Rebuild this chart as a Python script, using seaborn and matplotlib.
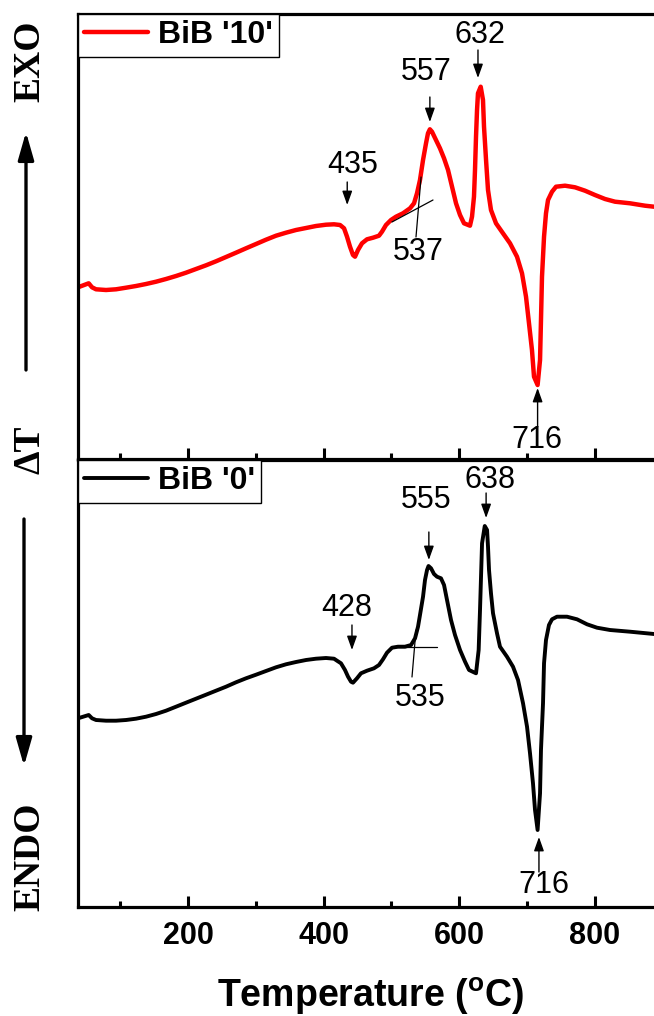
import numpy as np
import pandas as pd
import matplotlib
matplotlib.use("Agg")
import matplotlib.pyplot as plt
import seaborn as sns
from matplotlib.ticker import MultipleLocator, FixedLocator

# DTA traces (temperature in degC, differential signal in arbitrary units)
temp_bib10 = [37.6, 53.4, 58.3, 64.2, 79.0, 93.7, 108.5, 123.2, 138.0, 152.8,
              167.5, 182.3, 197.0, 211.8, 226.6, 241.3, 256.1, 270.8, 285.6, 300.4,
              315.1, 329.9, 344.6, 359.4, 374.2, 388.9, 403.7, 415.5, 424.4, 430.3,
              434.7, 439.1, 443.5, 446.5, 450.9, 456.8, 464.2, 473.1, 481.9, 486.3,
              492.2, 499.6, 507.0, 517.3, 527.7, 533.6, 538.0, 542.4, 546.9, 551.3,
              554.2, 557.0, 560.1, 566.0, 571.9, 577.9, 583.8, 589.7, 595.6, 601.5,
              607.4, 616.2, 619.2, 622.1, 623.6, 625.1, 626.6, 628.0, 632.0, 635.4,
              636.9, 639.9, 642.8, 647.2, 654.6, 664.9, 675.3, 685.6, 693.0, 698.9,
              703.3, 707.7, 710.7, 716.0, 719.6, 721.0, 722.5, 725.5, 728.4, 731.4,
              737.3, 743.2, 756.5, 771.2, 786.0, 800.7, 815.5, 830.3, 852.4, 874.5,
              887.8, 900.0]
dta_bib10 = [171.7, 175.7, 171.7, 169.7, 169.0, 169.7, 171.3, 173.0, 175.0, 177.3,
             180.0, 183.0, 186.3, 190.0, 193.7, 197.7, 202.0, 206.3, 210.7, 215.0,
             219.3, 223.3, 226.3, 229.0, 231.0, 233.0, 234.3, 234.7, 234.0, 230.7,
             222.3, 212.3, 204.0, 202.3, 209.0, 215.7, 219.7, 221.3, 223.3, 227.3,
             234.0, 239.0, 242.3, 245.7, 250.7, 255.7, 265.7, 279.0, 299.0, 315.7,
             325.7, 329.7, 327.3, 319.0, 310.7, 300.7, 289.0, 272.3, 255.7, 244.0,
             235.7, 233.3, 242.3, 262.3, 289.0, 322.3, 349.0, 365.7, 372.3, 359.0,
             332.3, 299.0, 269.0, 249.0, 235.7, 225.7, 215.7, 202.3, 185.7, 162.3,
             135.7, 109.0, 82.3, 74.0, 99.0, 139.0, 182.3, 222.3, 245.7, 259.0,
             267.3, 272.3, 273.3, 271.7, 268.3, 264.0, 260.0, 257.3, 255.7, 253.3,
             252.3, 251.5]

temp_bib0 = [37.6, 53.4, 58.3, 64.2, 79.0, 93.7, 108.5, 123.2, 138.0, 152.8,
             167.5, 182.3, 197.0, 211.8, 226.6, 241.3, 256.1, 270.8, 285.6, 300.4,
             315.1, 329.9, 344.6, 359.4, 374.2, 388.9, 403.7, 415.5, 419.9, 425.8,
             431.7, 436.2, 440.6, 443.5, 449.4, 455.3, 464.2, 474.5, 481.9, 487.8,
             493.7, 501.1, 509.9, 520.3, 529.2, 535.1, 539.5, 542.4, 546.9, 549.8,
             552.8, 555.0, 558.7, 563.1, 567.5, 573.4, 577.9, 582.3, 588.2, 594.1,
             601.5, 608.9, 614.8, 625.1, 629.0, 631.0, 632.5, 634.0, 638.0, 641.4,
             642.8, 644.3, 647.2, 650.2, 656.1, 660.5, 670.8, 679.7, 687.1, 694.5,
             700.4, 704.8, 709.2, 712.2, 716.0, 719.6, 721.0, 724.0, 725.5, 728.4,
             732.8, 737.3, 744.6, 759.4, 774.2, 789.0, 803.7, 822.9, 852.4, 887.8,
             900.0]
dta_bib0 = [188.7, 192.0, 188.7, 187.0, 186.3, 186.3, 187.0, 188.3, 190.3, 193.0,
            196.3, 200.3, 204.3, 208.3, 212.3, 216.3, 220.3, 224.7, 228.7, 232.3,
            236.0, 239.7, 242.7, 245.0, 247.0, 248.3, 249.0, 248.3, 246.3, 243.7,
            237.0, 230.3, 225.3, 224.3, 228.7, 233.7, 236.3, 238.7, 242.0, 247.7,
            254.3, 259.3, 260.3, 260.3, 262.0, 268.7, 280.3, 292.0, 310.3, 327.0,
            337.0, 341.0, 338.7, 333.0, 330.3, 328.7, 322.0, 307.0, 287.0, 272.0,
            257.0, 245.3, 237.0, 233.7, 257.0, 297.0, 330.3, 363.7, 381.0, 377.0,
            360.3, 337.0, 313.7, 293.7, 273.7, 260.3, 250.3, 240.3, 227.0, 203.7,
            180.3, 153.7, 123.7, 97.0, 77.0, 113.7, 157.0, 203.7, 243.7, 267.0,
            282.0, 287.7, 290.3, 290.3, 287.7, 282.7, 279.3, 277.0, 275.3, 273.0,
            272.5]

series_labels = ["BiB '10'", "BiB '0'"]
major_ticks = [200, 400, 600, 800]

# Peak annotations: (label, arrow x, arrow tail y, arrow head y, text x, text y)
peaks_bib10 = [("435", 435, 277, 254, 443.5, 294),
               ("557", 557, 362, 337, 551, 387),
               ("632", 628, 409, 381, 631, 424),
               ("716", 716, 32, 71, 715, 19)]
peaks_bib0 = [("428", 442, 282, 257, 434.7, 299),
              ("555", 555.5, 375, 347, 551, 407),
              ("638", 640, 414, 389, 645.8, 427),
              ("716", 718, 35, 70, 725.5, 22)]

# Onset constructions: (label, text x, text y, tangent line, crossing line)
onset_bib10 = ("537", 539.5, 207, ([501, 561.6], [237, 259]), ([544, 536.5], [282, 222]))
onset_bib0 = ("535", 542.4, 209, ([501, 567.5], [260, 260]), ([536.5, 530.6], [277, 230]))

sns.set_style("ticks")
plt.rcParams["font.family"] = ["Liberation Sans", "DejaVu Sans"]
plt.rcParams["mathtext.fontset"] = "custom"
plt.rcParams["mathtext.bf"] = "Liberation Sans:bold"
plt.rcParams["mathtext.rm"] = "Liberation Sans"
plt.rcParams["text.color"] = "black"
plt.rcParams["axes.labelcolor"] = "black"
plt.rcParams["xtick.color"] = "black"
plt.rcParams["ytick.color"] = "black"

W, H = 654, 1016
fig = plt.figure(figsize=(W / 100, H / 100), dpi=100)

xlim = (37.6, 900)
px_per_deg = 0.6775
ax_left = 78 / W
ax_w = (52.5 + xlim[1] * px_per_deg - 78) / W
ax1 = fig.add_axes([ax_left, 1 - 459 / H, ax_w, (459 - 14) / H])
ax2 = fig.add_axes([ax_left, 1 - 907 / H, ax_w, (907 - 460) / H])

df10 = pd.DataFrame({"T": temp_bib10, "dT": dta_bib10})
df0 = pd.DataFrame({"T": temp_bib0, "dT": dta_bib0})

sns.lineplot(data=df10, x="T", y="dT", ax=ax1, color="#ff0000", lw=3.2,
             sort=False, estimator=None, label=series_labels[0])
sns.lineplot(data=df0, x="T", y="dT", ax=ax2, color="black", lw=2.8,
             sort=False, estimator=None, label=series_labels[1])
for ax in (ax1, ax2):
    for ln in ax.get_lines():
        ln.set_solid_joinstyle("round")
        ln.set_solid_capstyle("round")

for ax, ylim in ((ax1, (0, 445)), (ax2, (0, 447))):
    ax.set_xlim(*xlim)
    ax.set_ylim(*ylim)
    ax.set_xlabel("")
    ax.set_ylabel("")
    ax.set_yticks([])
    ax.xaxis.set_major_locator(FixedLocator(major_ticks))
    ax.xaxis.set_minor_locator(MultipleLocator(100))
    ax.tick_params(axis="x", which="major", direction="in", length=8, width=2.2,
                   pad=10, labelsize=22, top=False)
    ax.tick_params(axis="x", which="minor", direction="in", length=4, width=2.2, top=False)
    for sp in ax.spines.values():
        sp.set_linewidth(2.3)
        sp.set_color("black")
    ax.spines["right"].set_visible(False)
    leg = ax.legend(loc="upper left", bbox_to_anchor=(0, 1), borderaxespad=0,
                    frameon=True, fancybox=False, edgecolor="black",
                    prop=dict(family="Liberation Sans", weight="bold", size=23),
                    handlelength=2.0, handletextpad=0.3, borderpad=0.2)
    leg.get_frame().set_linewidth(1.0)
    leg.get_frame().set_alpha(1)
    for t in leg.get_texts():
        t.set_color("black")

ax1.tick_params(axis="x", labelbottom=False)
for lab in ax2.get_xticklabels():
    lab.set_fontweight("bold")

ax2.set_xlabel(r"Temperature ($^{\mathbf{o}}$C)", fontsize=27, fontweight="bold",
               color="black")
ax2.xaxis.set_label_coords(0.5, -0.153)

arrow_kw = dict(arrowstyle="-|>,head_length=0.7,head_width=0.25", color="black",
                lw=1.0, mutation_scale=12, shrinkA=0, shrinkB=0)


def annotate_peaks(ax, peaks):
    for lab, xa, ytail, yhead, xt, yt in peaks:
        ax.annotate("", xy=(xa, yhead), xytext=(xa, ytail), arrowprops=arrow_kw)
        ax.text(xt, yt, lab, ha="center", va="center", fontsize=22, color="black")


def annotate_onset(ax, onset):
    lab, xt, yt, tangent, cross = onset
    ax.plot(tangent[0], tangent[1], color="black", lw=0.9)
    ax.plot(cross[0], cross[1], color="black", lw=0.9)
    ax.text(xt, yt, lab, ha="center", va="center", fontsize=22, color="black")


annotate_peaks(ax1, peaks_bib10)
annotate_peaks(ax2, peaks_bib0)
annotate_onset(ax1, onset_bib10)
annotate_onset(ax2, onset_bib0)

# Left-hand direction labels
side_kw = dict(family=["Liberation Serif", "DejaVu Serif"], weight="bold", size=27,
               rotation=90, ha="center", va="center", color="black")
fig.text(30 / W, 1 - 61 / H, "EXO", **side_kw)
fig.text(30 / W, 1 - 450 / H, "ΔT", **side_kw)
fig.text(30 / W, 1 - 857 / H, "ENDO", **side_kw)

big_arrow = dict(arrowstyle="-|>,head_length=1.4,head_width=0.4", color="black",
                 lw=2.4, mutation_scale=12, shrinkA=0, shrinkB=0)
ax1.annotate("", xy=(26, H - 132), xytext=(26, H - 370), xycoords="figure pixels",
             textcoords="figure pixels", arrowprops=big_arrow, annotation_clip=False)
ax2.annotate("", xy=(24, H - 766), xytext=(24, H - 519), xycoords="figure pixels",
             textcoords="figure pixels", arrowprops=big_arrow, annotation_clip=False)

fig.savefig("out.png", dpi=100)
